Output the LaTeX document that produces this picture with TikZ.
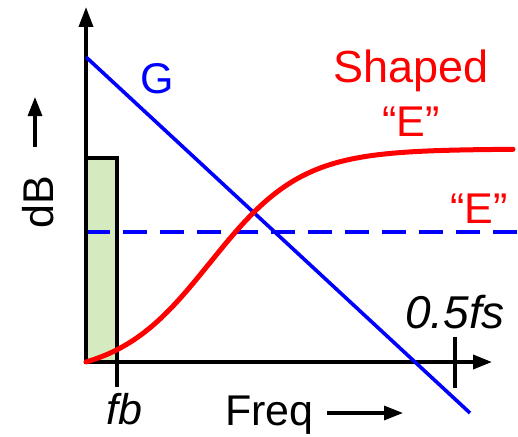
\documentclass[tikz,border=0pt]{standalone}
\usepackage{fontspec}
\setmainfont{Liberation Sans}
\usetikzlibrary{arrows.meta}
\definecolor{bandgreen}{RGB}{213,234,191}
\tikzset{
  axis/.style={line width=3.6pt, black},
  tip/.style={-{Triangle[length=19pt,width=14pt]}},
  tick/.style={line width=3.2pt, black},
  lbl/.style={inner sep=0pt, font=\fontsize{43}{50}\selectfont},
  gline/.style={line width=3.6pt, blue},
  eline/.style={line width=3.6pt, blue, dash pattern=on 24pt off 13pt},
  sline/.style={line width=5pt, red, line join=round, line cap=round},
}
\begin{document}
\begin{tikzpicture}[x=1pt, y=-1pt]
\useasboundingbox (0,0) rectangle (518,436);
\coordinate (O) at (86,362);
\coordinate (ytip) at (86,7);
\coordinate (xtip) at (492,362);
% band
\draw[line width=3.6pt, fill=bandgreen] (86,362) rectangle (117,158);
% dashed E
\coordinate (e0) at (86,232);
\coordinate (e1) at (518,232);
\draw[eline] (e0) -- (e1);
% axes
\draw[axis, {Triangle[length=20pt,width=14pt]}-{Triangle[length=19pt,width=14pt]}] (ytip) -- (O) -- (xtip);
% ticks
\coordinate (fb0) at (117,362);
\coordinate (fb1) at (117,387);
\draw[tick] (fb0) -- (fb1);
\coordinate (fs0) at (455,337);
\coordinate (fs1) at (455,388);
\draw[tick] (fs0) -- (fs1);
% G line
\coordinate (g0) at (86,57);
\coordinate (g1) at (470,413);
\draw[gline] (g0) -- (g1);
% shaped E
\draw[sline] plot[domain=86:513, samples=90, smooth] (\x, {362-213*((1+tanh((\x-210)/92))/2-0.063)/0.937});
% labels
\node[lbl, text=blue, anchor=base] (G) at (157,93) {G};
\node[lbl, text=red, anchor=base, font=\fontsize{45}{50}\selectfont] (sh) at (411,82) {Shaped};
\node[lbl, text=red, anchor=base] (she) at (411,136) {“E”};
\node[lbl, text=red, anchor=base] (E) at (479,223) {“E”};
\node[lbl, anchor=base, font=\fontsize{46}{50}\selectfont] (fs) at (455,328) {\itshape 0.5fs};
\node[lbl, anchor=base] (fb) at (124,424) {\itshape fb};
\node[lbl, anchor=base west] (freq) at (225,425) {Freq};
\coordinate (fa0) at (327,413);
\coordinate (fa1) at (403,413);
\draw[line width=3.2pt, tip] (fa0) -- (fa1);
\node[lbl, anchor=base, rotate=90] (dB) at (53,202) {dB};
\coordinate (da0) at (35,147);
\coordinate (da1) at (35,97);
\draw[line width=3.2pt, tip] (da0) -- (da1);
\end{tikzpicture}
\end{document}
